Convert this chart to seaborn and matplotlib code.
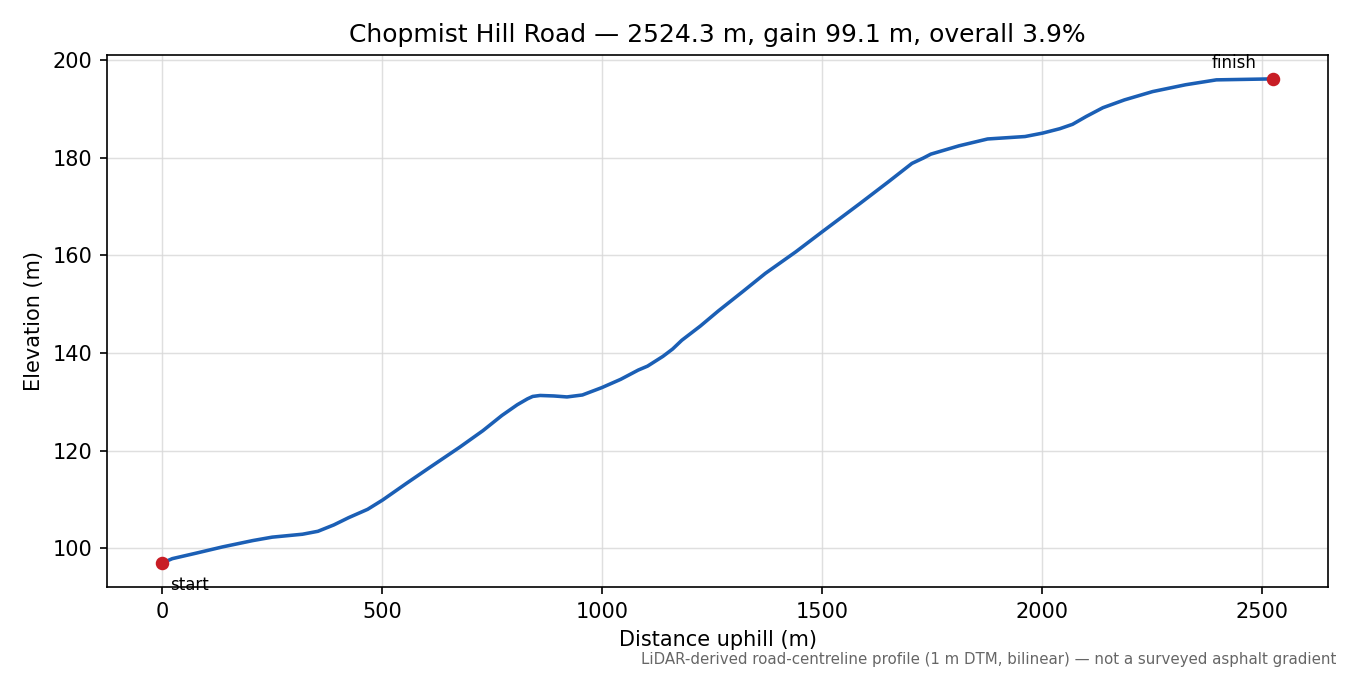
import numpy as np
import pandas as pd
import matplotlib
matplotlib.use("Agg")
import matplotlib.pyplot as plt
import seaborn as sns

distance_m = [0, 23, 76, 137, 206, 250, 319, 354, 390, 424, 467, 501, 555, 607, 676, 729,
              772, 807, 830, 842, 859, 890, 920, 955, 999, 1042, 1082, 1103, 1124, 1138,
              1160, 1181, 1223, 1264, 1320, 1371, 1440, 1500, 1586, 1650, 1704, 1730,
              1747, 1811, 1876, 1961, 2001, 2040, 2069, 2100, 2138, 2187, 2251, 2326,
              2396, 2460, 2524.3]
elevation_m = [97.0, 97.9, 99.0, 100.3, 101.6, 102.3, 102.9, 103.5, 104.8, 106.3, 108.0,
               109.9, 113.3, 116.5, 120.7, 124.1, 127.2, 129.4, 130.6, 131.1, 131.3,
               131.2, 131.0, 131.4, 132.9, 134.6, 136.5, 137.3, 138.5, 139.3, 140.8,
               142.6, 145.5, 148.6, 152.6, 156.3, 160.7, 164.8, 170.6, 175.0, 178.8,
               179.9, 180.7, 182.4, 183.8, 184.3, 185.0, 185.9, 186.8, 188.4, 190.2,
               191.8, 193.5, 194.9, 195.9, 196.0, 196.1]

title = "Chopmist Hill Road \u2014 2524.3 m, gain 99.1 m, overall 3.9%"
footnote = "LiDAR-derived road-centreline profile (1 m DTM, bilinear) \u2014 not a surveyed asphalt gradient"

sns.set_style("ticks")
plt.rcParams['font.family'] = ['DejaVu Sans']
plt.rcParams['text.color'] = 'black'
plt.rcParams['axes.labelcolor'] = 'black'

df = pd.DataFrame({"d": distance_m, "z": elevation_m})

fig, ax = plt.subplots(figsize=(9, 4.5), dpi=150)
fig.subplots_adjust(left=0.079, right=0.984, top=0.919, bottom=0.130)

sns.lineplot(data=df, x="d", y="z", ax=ax, color="#1b5fb5", linewidth=1.7)
ends = df.iloc[[0, -1]]
ax.scatter(ends["d"], ends["z"], color="#c81d25", s=30, zorder=5)
ax.annotate("start", (ends["d"].iloc[0], ends["z"].iloc[0]), xytext=(4, -6),
            textcoords="offset points", ha="left", va="top", fontsize=8, color="black")
ax.annotate("finish", (ends["d"].iloc[1], ends["z"].iloc[1]), xytext=(-8, 3.5),
            textcoords="offset points", ha="right", va="bottom", fontsize=8, color="black")

ax.grid(True, color="#d8d8d8", linewidth=0.7, alpha=0.8)
for s in ax.spines.values():
    s.set_visible(True)
    s.set_color("black")
    s.set_linewidth(0.8)
ax.tick_params(colors="black", labelsize=10)
ax.set_xlabel("Distance uphill (m)", fontsize=10)
ax.set_ylabel("Elevation (m)", fontsize=10)
ax.set_title(title, fontsize=12, color="black")
fig.text(0.99, 0.012, footnote, ha="right", va="bottom", fontsize=7.2, color="#666666")

fig.savefig("out.png", dpi=150)
